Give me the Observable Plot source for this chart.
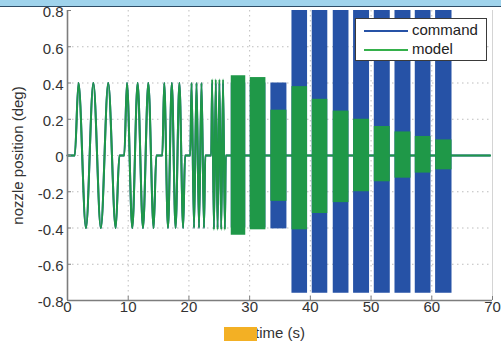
<!DOCTYPE html>
<html>
<head>
<meta charset="utf-8">
<script src="https://cdn.jsdelivr.net/npm/d3@7"></script>
<script src="https://cdn.jsdelivr.net/npm/@observablehq/plot@0.6"></script>
<style>
  html, body { margin: 0; padding: 0; background: #fff; }
  #wrap { position: relative; width: 501px; height: 341px; overflow: hidden;
          font-family: "Liberation Sans", Arial, Helvetica, sans-serif; }
  #band { position: absolute; left: 0; top: 0; width: 501px; height: 6px;
          background: #9fd3ec; border-bottom: 1.5px solid #2d4c66; }
  #legend { position: absolute; left: 355px; top: 18px; width: 130px; height: 41px;
            background: #fff; border: 1px solid #3a3a3a; box-sizing: content-box; }
  .item { position: absolute; left: 0; height: 18px; width: 130px; }
  .swatch { position: absolute; left: 8px; width: 44px; height: 2px; }
  .lab { position: absolute; left: 56px; font-size: 15px; line-height: 18px; color: #222; }
  #sticker { position: absolute; left: 224px; top: 327px; width: 33px; height: 14px; background: #f3b024; }
</style>
</head>
<body>
<div id="wrap">
  <div id="chart"></div>
  <div id="band"></div>
  <div id="legend"></div>
  <div id="sticker"></div>
</div>
<script>
// ---- axes ----
const xTicks = [0, 10, 20, 30, 40, 50, 60, 70];
const yTicks = [-0.8, -0.6, -0.4, -0.2, 0, 0.2, 0.4, 0.6, 0.8];
const xGrid = [10, 20, 30, 40, 50, 60];
const yGrid = [-0.6, -0.4, -0.2, 0, 0.2, 0.4, 0.6];

// ---- series ----
const seriesNames = ["command", "model"];
const seriesColors = ["#2652a6", "#1f9848"];

// resolvable part of the signal (time s, deflection deg): zeros, peaks, troughs
const earlyTime = [
  0, 1.20, 1.81, 3.04, 4.26, 5.49, 6.71, 7.94, 8.55,
  9.35, 9.79, 10.67, 11.55, 12.43, 13.31, 14.19, 14.63,
  15.62, 15.93, 16.55, 17.18, 17.80, 18.43, 19.05, 19.36,
  20.22, 20.43, 20.84, 21.25, 21.66, 22.07, 22.48, 22.69,
  23.67, 23.82, 24.12, 24.42, 24.72, 25.02, 25.32, 25.62, 25.92, 26.07,
  69.6
];
const earlyCommand = [
  0, 0, 0.4, -0.4, 0.4, -0.4, 0.4, -0.4, 0,
  0, 0.4, -0.4, 0.4, -0.4, 0.4, -0.4, 0,
  0, 0.4, -0.4, 0.4, -0.4, 0.4, -0.4, 0,
  0, 0.4, -0.4, 0.4, -0.4, 0.4, -0.4, 0,
  0, 0.4, -0.4, 0.4, -0.4, 0.4, -0.4, 0.4, -0.4, 0,
  0
];
const earlyModel = [
  0, 0, 0.4, -0.4, 0.4, -0.4, 0.4, -0.4, 0,
  0, 0.4, -0.4, 0.4, -0.4, 0.4, -0.4, 0,
  0, 0.4, -0.4, 0.4, -0.4, 0.4, -0.4, 0,
  0, 0.4, -0.4, 0.4, -0.4, 0.4, -0.4, 0,
  0, 0.42, -0.41, 0.42, -0.41, 0.42, -0.41, 0.42, -0.41, 0,
  0
];

// dense high-frequency bursts: time span and envelope (deg)
const burstStart  = [26.97, 30.10, 33.50, 36.97, 40.31, 43.77, 47.12, 50.53, 53.94, 57.28, 60.63];
const burstEnd    = [29.36, 32.68, 36.14, 39.54, 42.87, 46.36, 49.75, 53.16, 56.57, 59.87, 63.33];
const commandHigh = [0.40, 0.40, 0.40, 0.80, 0.80, 0.80, 0.80, 0.80, 0.80, 0.80, 0.80];
const commandLow  = [-0.40, -0.40, -0.405, -0.76, -0.76, -0.76, -0.76, -0.76, -0.76, -0.76, -0.76];
const modelHigh   = [0.44, 0.43, 0.25, 0.38, 0.31, 0.245, 0.20, 0.16, 0.13, 0.105, 0.086];
const modelLow    = [-0.44, -0.41, -0.253, -0.41, -0.32, -0.26, -0.20, -0.145, -0.125, -0.097, -0.079];

// ---- tables ----
const early = earlyTime.map((t, i) => ({t, command: earlyCommand[i], model: earlyModel[i]}));
const bursts = burstStart.map((s, i) => ({
  start: s, end: burstEnd[i],
  cHi: commandHigh[i], cLo: commandLow[i],
  mHi: modelHigh[i], mLo: modelLow[i]
}));

const fmtY = d => d === 0 ? "0" : d.toFixed(1);
const fmtX = d => String(d);
const axisGray = "#7d7d7d";
const gridGray = "#bdbdbd";

const chart = Plot.plot({
  width: 501,
  height: 341,
  marginLeft: 67,
  marginRight: 9,
  marginTop: 10,
  marginBottom: 41,
  style: {fontFamily: '"Liberation Sans", Arial, Helvetica, sans-serif', fontSize: "15px", color: "#333", background: "transparent"},
  x: {domain: [0, 70]},
  y: {domain: [-0.8, 0.8]},
  marks: [
    Plot.ruleX(xGrid, {stroke: gridGray, strokeWidth: 1, strokeDasharray: "1.5,3.5"}),
    Plot.ruleY(yGrid, {stroke: gridGray, strokeWidth: 1, strokeDasharray: "1.5,3.5"}),
    // command
    Plot.line(early, {x: "t", y: "command", stroke: seriesColors[0], strokeWidth: 2, curve: "monotone-x"}),
    Plot.rect(bursts, {x1: "start", x2: "end", y1: "cLo", y2: "cHi", fill: seriesColors[0]}),
    // model
    Plot.line(early, {x: "t", y: "model", stroke: seriesColors[1], strokeWidth: 2, curve: "monotone-x"}),
    Plot.rect(bursts, {x1: "start", x2: "end", y1: "mLo", y2: "mHi", fill: seriesColors[1]}),
    // frame
    Plot.ruleX([0], {stroke: axisGray, strokeWidth: 1.6}),
    Plot.ruleY([-0.8], {stroke: axisGray, strokeWidth: 1.6}),
    Plot.ruleX([70], {stroke: "#d4d4d4", strokeWidth: 1}),
    // inward ticks
    Plot.axisX(xTicks, {tickSize: -4, stroke: axisGray, fill: "none", label: null}),
    Plot.axisY(yTicks, {tickSize: -4, stroke: axisGray, fill: "none", label: null}),
    // tick labels + axis labels
    Plot.axisX(xTicks, {tickSize: 0, tickPadding: 0.5, tickFormat: fmtX,
      label: "time (s)", labelAnchor: "center", labelArrow: "none", labelOffset: 37}),
    Plot.axisY(yTicks, {tickSize: 0, tickPadding: 4, tickFormat: fmtY, dy: 2,
      label: "nozzle position (deg)", labelAnchor: "center", labelArrow: "none", labelOffset: 55})
  ]
});
document.getElementById("chart").appendChild(chart);

// legend built from the series arrays
const legend = document.getElementById("legend");
seriesNames.forEach((name, i) => {
  const item = document.createElement("div");
  item.className = "item";
  item.style.top = (i === 0 ? 2 : 21) + "px";
  const sw = document.createElement("div");
  sw.className = "swatch";
  sw.style.top = "9px";
  sw.style.background = i === 0 ? seriesColors[0] : "#35b04b";
  const lab = document.createElement("div");
  lab.className = "lab";
  lab.style.top = "0px";
  lab.textContent = name;
  item.appendChild(sw);
  item.appendChild(lab);
  legend.appendChild(item);
});
</script>
</body>
</html>
